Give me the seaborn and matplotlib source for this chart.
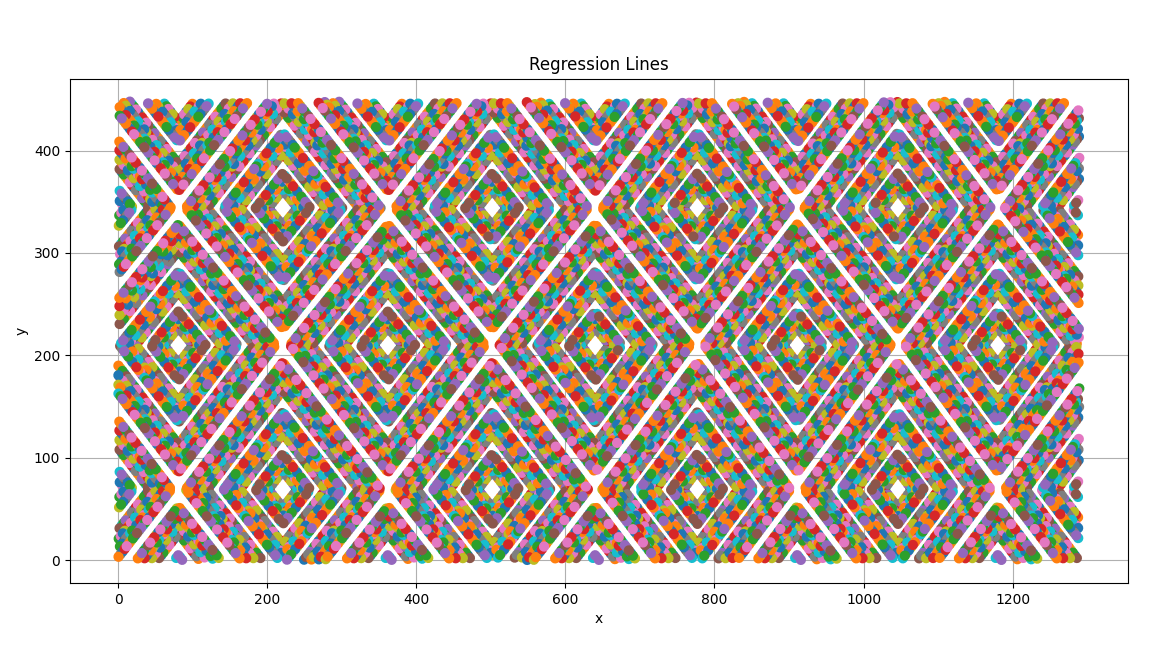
import numpy as np
import matplotlib
matplotlib.use("Agg")
import matplotlib.pyplot as plt
import seaborn as sns

# ---- values -----------------------------------------------------------
title = "Regression Lines"
x_label, y_label = "x", "y"
x_max, y_max = 1290, 448                     # extent of the point cloud
x_ticks = [0, 200, 400, 600, 800, 1000, 1200]
y_ticks = [0, 100, 200, 300, 400]
# lattice of diamond centres / X-shaped crossings (data units)
node_x = [-59, 81, 221, 362, 502, 640, 777, 911, 1046, 1180, 1315]
node_y = [-69, 69, 210, 344, 482]
# concentric rings inside every diamond: reach towards the left/right nodes ...
ring_fx = [0.14, 0.20, 0.26,
           0.41, 0.49, 0.565,
           0.725, 0.795, 0.865, 0.93]
# ... and towards the nodes above/below
ring_fy = [0.13, 0.19, 0.245,
           0.39, 0.465, 0.535,
           0.69, 0.755, 0.82, 0.88]
palette = sns.color_palette("tab10", 10)
# fixed order in which the ten colours follow each other along a ring
colour_order = [3, 0, 7, 1, 8, 4, 2, 9, 5, 6, 1, 3, 8, 0, 6, 2, 9, 4, 7, 5, 0, 2, 8, 1, 6]

plt.rcParams["lines.scale_dashes"] = False

fig = plt.figure(figsize=(11.64, 6.55), dpi=100)
ax = fig.add_axes([0.0601, 0.110, 0.9089, 0.770])


def clip_segment(p0, p1):
    """Liang-Barsky clipping of a segment to the data box."""
    x0, y0 = p0
    x1, y1 = p1
    dx, dy = x1 - x0, y1 - y0
    t0, t1 = 0.0, 1.0
    for p, q in ((-dx, x0 - 0), (dx, x_max - x0), (-dy, y0 - 0), (dy, y_max - y0)):
        if p == 0:
            if q < 0:
                return None
            continue
        r = q / p
        if p < 0:
            if r > t1:
                return None
            t0 = max(t0, r)
        else:
            if r < t0:
                return None
            t1 = min(t1, r)
    if t1 - t0 <= 1e-9:
        return None
    return (x0 + t0 * dx, y0 + t0 * dy), (x0 + t1 * dx, y0 + t1 * dy)


nx, ny = len(node_x), len(node_y)
centres = []
for i in range(nx):
    for j in range(ny):
        if (i + j) % 2 == 1:
            dl = node_x[i] - node_x[i - 1] if i > 0 else node_x[1] - node_x[0]
            dr = node_x[i + 1] - node_x[i] if i < nx - 1 else node_x[-1] - node_x[-2]
            db = node_y[j] - node_y[j - 1] if j > 0 else node_y[1] - node_y[0]
            dt = node_y[j + 1] - node_y[j] if j < ny - 1 else node_y[-1] - node_y[-2]
            centres.append((node_x[i], node_y[j], dl, dr, db, dt))

dot_pt = 7.4          # dot diameter in points
step = 2.4            # spacing of successive dots in points
L = len(colour_order)
period = step * L
eps = 0.05

# dash pattern (offset, sequence) for each colour
patterns = {}
for c in range(10):
    pos = [n * step for n, ci in enumerate(colour_order) if ci == c]
    seq = []
    for a, b in zip(pos, pos[1:] + [pos[0] + period]):
        seq += [eps, b - a - eps]
    patterns[c] = (period - pos[0], tuple(seq))

for k, (fx, fy) in enumerate(zip(ring_fx, ring_fy)):
    xs, ys = [], []
    for cx, cy, dl, dr, db, dt in centres:
        V = [(cx - fx * dl, cy), (cx, cy + fy * dt), (cx + fx * dr, cy),
             (cx, cy - fy * db), (cx - fx * dl, cy)]
        for a, b in zip(V[:-1], V[1:]):
            seg = clip_segment(a, b)
            if seg is None:
                continue
            (sx0, sy0), (sx1, sy1) = seg
            xs += [sx0, sx1, np.nan]
            ys += [sy0, sy1, np.nan]
    shift = (k * 7.3) % period
    for r in range(10):
        c = (r + 3 * k) % 10
        off, seq = patterns[c]
        ax.plot(xs, ys, color=palette[c], lw=dot_pt,
                linestyle=((off + shift) % period, seq),
                dash_capstyle="round", zorder=2)

ax.set_xlim(-0.05 * x_max, 1.05 * x_max)
ax.set_ylim(-0.05 * y_max, 1.05 * y_max)
ax.set_xticks(x_ticks)
ax.set_yticks(y_ticks)
ax.grid(True)
ax.set_title(title)
ax.set_xlabel(x_label)
ax.set_ylabel(y_label)

fig.savefig("out.png", dpi=100)
